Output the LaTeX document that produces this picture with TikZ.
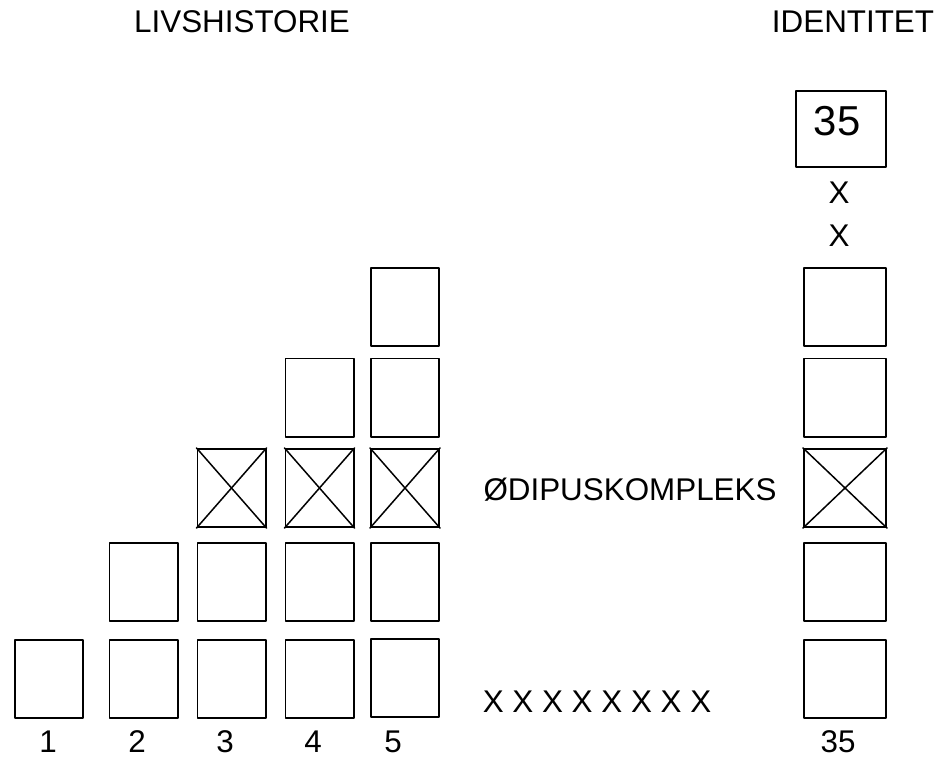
\documentclass[tikz,border=0pt]{standalone}
\usepackage{fontspec}
\setmainfont{Liberation Sans}
\usepackage{tikz}

\tikzset{
  rute/.style={draw, line width=1.7bp, minimum width=68.3bp, minimum height=78.3bp, inner sep=0pt},
  hrute/.style={rute, minimum width=82.3bp},
  tekst/.style={anchor=base, inner sep=0pt, font=\fontsize{31.5}{36}\selectfont}
}

\begin{document}
\begin{tikzpicture}[x=1bp,y=-1bp,line cap=round,line join=round]
        \useasboundingbox (0,0) rectangle (945,757);
        % overskrifter
        \node[tekst] (livs) at (242,33) {LIVSHISTORIE};
        \node[tekst] (ident) at (853,33) {IDENTITET};
        % kolonne 1
        \node[rute] (k1r1) at (49,679) {};
        % kolonne 2
        \node[rute] (k2r1) at (143.5,679) {};
        \node[rute] (k2r2) at (143.5,582) {};
        % kolonne 3
        \node[rute] (k3r1) at (231.5,679) {};
        \node[rute] (k3r2) at (231.5,582) {};
        \node[rute] (k3r3) at (231.5,488) {};
        % kolonne 4
        \node[rute] (k4r1) at (319.5,679) {};
        \node[rute] (k4r2) at (319.5,582) {};
        \node[rute] (k4r3) at (319.5,488) {};
        \node[rute] (k4r4) at (319.5,397.5) {};
        % kolonne 5
        \node[rute] (k5r1) at (405,678) {};
        \node[rute] (k5r2) at (405,582) {};
        \node[rute] (k5r3) at (405,488) {};
        \node[rute] (k5r4) at (405,397.5) {};
        \node[rute] (k5r5) at (405,307) {};
        % identitet
        \node[hrute] (h1) at (845,679) {};
        \node[hrute] (h2) at (845,582) {};
        \node[hrute] (h3) at (845,488) {};
        \node[hrute] (h4) at (845,397.5) {};
        \node[hrute] (h5) at (845,307) {};
        \node[rute, minimum width=90.3bp, minimum height=76.3bp] (h35) at (841,129) {};
        \node[tekst, font=\fontsize{42}{48}\selectfont] (tal35) at (837,135) {35};
        \node[tekst] (xa) at (839,203) {X};
        \node[tekst] (xb) at (839,246) {X};
        % krydsede ruter
        \draw[line width=1.5bp] (k3r3.north west) -- (k3r3.south east) (k3r3.north east) -- (k3r3.south west);
        \draw[line width=1.5bp] (k4r3.north west) -- (k4r3.south east) (k4r3.north east) -- (k4r3.south west);
        \draw[line width=1.5bp] (k5r3.north west) -- (k5r3.south east) (k5r3.north east) -- (k5r3.south west);
        \draw[line width=1.5bp] (h3.north west) -- (h3.south east) (h3.north east) -- (h3.south west);
        % tekster
        \node[tekst] (odipus) at (630,500) {ØDIPUSKOMPLEKS};
        \node[tekst] (xrk) at (597,712) {X X X X X X X X};
        \node[tekst] (n1) at (48,752) {1};
        \node[tekst] (n2) at (137,752) {2};
        \node[tekst] (n3) at (225,752) {3};
        \node[tekst] (n4) at (313,752) {4};
        \node[tekst] (n5) at (393,752) {5};
        \node[tekst] (n35) at (838,752) {35};
      \end{tikzpicture}
\end{document}
